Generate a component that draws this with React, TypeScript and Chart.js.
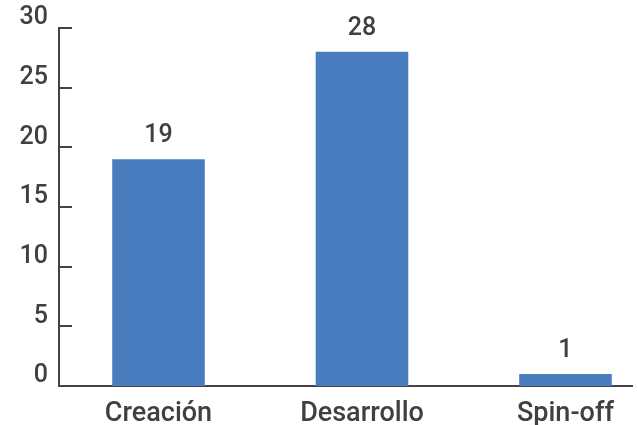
import React, { useEffect, useRef } from "react";
import { Chart, registerables } from "chart.js";

Chart.register(...registerables);

const categories = ["Creación", "Desarrollo", "Spin-off"];
const values = [19, 28, 1];
const yTicks = [0, 5, 10, 15, 20, 25, 30];

const TEXT = "#404040";
const AXIS = "#444444";
const BAR = "#4a7dc0";
const FONT = "Roboto";

const innerTicks = {
  id: "innerTicks",
  afterDraw(chart: any) {
    const { ctx, chartArea } = chart;
    const y = chart.scales.y;
    ctx.save();
    ctx.strokeStyle = AXIS;
    ctx.lineWidth = 2;
    yTicks.forEach((v) => {
      if (v === 0) return;
      const py = Math.round(y.getPixelForValue(v));
      ctx.beginPath();
      ctx.moveTo(chartArea.left, py);
      ctx.lineTo(chartArea.left + 13, py);
      ctx.stroke();
    });
    ctx.restore();
  },
};

const dataLabels = {
  id: "dataLabels",
  afterDatasetsDraw(chart: any) {
    const { ctx } = chart;
    const meta = chart.getDatasetMeta(0);
    ctx.save();
    ctx.fillStyle = TEXT;
    ctx.font = `500 25px ${FONT}`;
    ctx.textAlign = "center";
    ctx.textBaseline = "alphabetic";
    meta.data.forEach((bar: any, i: number) => {
      ctx.fillText(String(values[i]), bar.x, bar.y - 17);
    });
    ctx.restore();
  },
};

export default function App() {
  const ref = useRef<HTMLCanvasElement | null>(null);
  useEffect(() => {
    document.body.style.margin = "0";
    const chart = new Chart(ref.current as HTMLCanvasElement, {
      type: "bar",
      data: {
        datasets: [
          {
            data: values.map((v, i) => ({ x: i, y: v })),
            backgroundColor: BAR,
            barPercentage: 0.455,
            categoryPercentage: 1,
          },
        ],
      },
      options: {
        animation: false,
        responsive: false,
        maintainAspectRatio: false,
        layout: { padding: { top: 28, right: 6, left: 0, bottom: 0 } },
        plugins: { legend: { display: false }, tooltip: { enabled: false } },
        scales: {
          x: {
            type: "linear",
            offset: false,
            min: -0.489,
            max: 2.327,
            grid: { display: false, drawTicks: false, offset: false },
            border: { display: true, color: AXIS, width: 2 },
            afterBuildTicks: (scale: any) => {
              scale.ticks = categories.map((_, i) => ({ value: i }));
            },
            afterFit: (scale: any) => {
              scale.height = 39;
            },
            ticks: {
              autoSkip: false,
              maxRotation: 0,
              padding: 12,
              color: TEXT,
              font: { family: FONT, size: 27, weight: "500" },
              callback: (v: any) => categories[v as number] ?? "",
            },
          },
          y: {
            min: 0,
            max: 30,
            grid: { display: false, drawTicks: false },
            border: { display: true, color: AXIS, width: 2 },
            afterBuildTicks: (scale: any) => {
              scale.ticks = yTicks.map((v) => ({ value: v }));
            },
            afterFit: (scale: any) => {
              scale.width = 59;
            },
            ticks: {
              padding: 11,
              labelOffset: -10,
              color: TEXT,
              font: { family: FONT, size: 25, weight: "500" },
            },
          },
        },
      },
      plugins: [innerTicks, dataLabels],
    });
    return () => chart.destroy();
  }, []);
  return (
    <div style={{ width: 638, height: 425 }}>
      <canvas ref={ref} width={638} height={425} />
    </div>
  );
}
